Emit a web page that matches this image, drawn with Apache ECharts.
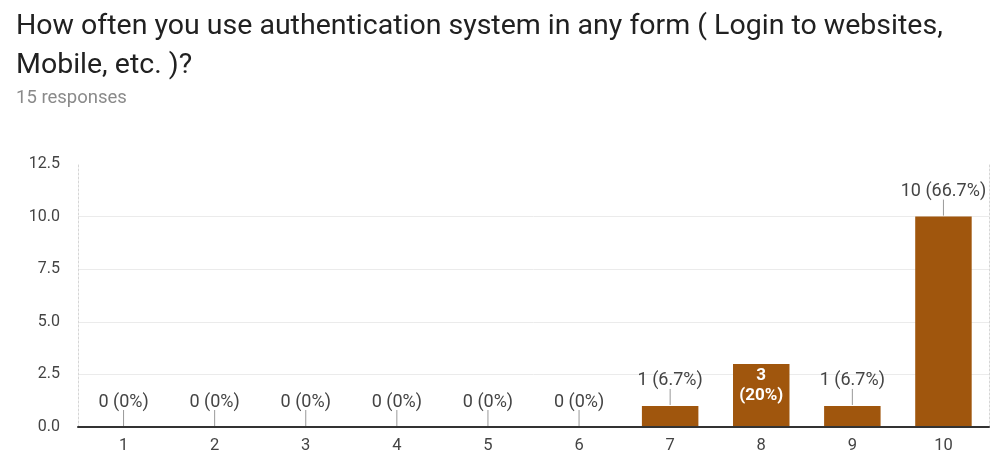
<!DOCTYPE html>
<html>
<head>
<meta charset="utf-8">
<script src="https://cdn.jsdelivr.net/npm/echarts@6/dist/echarts.min.js"></script>
<style>
  html, body { margin: 0; padding: 0; background: #fff; }
  #chart { width: 991px; height: 456px; }
</style>
</head>
<body>
<div id="chart"></div>
<script>
// Survey answers: rating 1..10 and how many people picked each
const categories = ['1', '2', '3', '4', '5', '6', '7', '8', '9', '10'];
const counts = [0, 0, 0, 0, 0, 0, 1, 3, 1, 10];
const totalResponses = 15;
const yTicks = [0, 2.5, 5, 7.5, 10, 12.5];

const titleText = 'How often you use authentication system in any form ( Login to websites,\nMobile, etc. )?';
const subText = totalResponses + ' responses';

const BAR_COLOR = '#a0560d';
const LABEL_COLOR = '#444';
const FONT = 'Roboto, Arial, sans-serif';
const FRAME = { show: true, lineStyle: { color: '#d6d6d6', type: [2, 2], width: 1 } };

function pct(v) {
  return Math.round(v / totalResponses * 1000) / 10;
}
// labels that sit inside their bar (split over two lines)
const insideLabel = counts.map(v => v >= 2 && v <= 5);

const barData = counts.map((v, i) => {
  if (insideLabel[i]) {
    return {
      value: v,
      label: {
        show: true, position: 'insideTop', distance: 2,
        color: '#fff', fontWeight: 'bold', fontSize: 17, lineHeight: 20,
        fontFamily: FONT,
        formatter: v + '\n(' + pct(v) + '%)'
      }
    };
  }
  return {
    value: v,
    label: {
      show: true, position: 'top', distance: 16,
      color: LABEL_COLOR, fontSize: 18, fontFamily: FONT,
      formatter: v + ' (' + pct(v) + '%)'
    }
  };
});

const chart = echarts.init(document.getElementById('chart'), null, { renderer: 'canvas' });
chart.setOption({
  animation: false,
  backgroundColor: '#fff',
  title: {
    text: titleText,
    subtext: subText,
    left: 11,
    top: 2,
    itemGap: 4,
    textStyle: { fontFamily: FONT, fontSize: 28.5, fontWeight: 'normal', color: '#212121', lineHeight: 39 },
    subtextStyle: { fontFamily: FONT, fontSize: 18.5, color: '#8a8a8a' }
  },
  grid: { left: 78, right: 2, top: 164, bottom: 29 },
  xAxis: [
    {
      type: 'category',
      data: categories,
      axisLine: { lineStyle: { color: '#333', width: 2 } },
      axisTick: { show: false },
      axisLabel: { color: LABEL_COLOR, fontSize: 16.5, fontFamily: FONT, margin: 10 },
      z: 5
    },
    {
      // dotted frame along the top edge
      type: 'category',
      data: categories,
      position: 'top',
      axisLine: FRAME,
      axisTick: { show: false },
      axisLabel: { show: false }
    }
  ],
  yAxis: [
    {
      type: 'value',
      min: yTicks[0],
      max: yTicks[yTicks.length - 1],
      interval: 2.5,
      axisLine: FRAME,
      axisTick: { show: false },
      axisLabel: {
        color: LABEL_COLOR, fontSize: 16, fontFamily: FONT, margin: 18,
        formatter: v => v.toFixed(1)
      },
      splitLine: { lineStyle: { color: ['#ebebeb', '#ebebeb', '#ebebeb', '#ebebeb', '#ebebeb', 'transparent'] } }
    },
    {
      // dotted frame along the right edge
      type: 'value',
      position: 'right',
      min: yTicks[0],
      max: yTicks[yTicks.length - 1],
      interval: 2.5,
      axisLine: FRAME,
      axisTick: { show: false },
      axisLabel: { show: false },
      splitLine: { show: false }
    }
  ],
  series: [
    {
      type: 'bar',
      data: barData,
      barWidth: '62%',
      itemStyle: { color: BAR_COLOR },
      z: 2
    },
    {
      // short leader lines from the top of each bar up to its outside label
      type: 'custom',
      data: counts.map((v, i) => [i, v]),
      renderItem: (params, api) => {
        const i = api.value(0);
        if (insideLabel[i]) return null;
        const p = api.coord([i, api.value(1)]);
        return {
          type: 'line',
          shape: { x1: p[0], y1: p[1] - 1, x2: p[0], y2: p[1] - 17 },
          style: { stroke: '#999', lineWidth: 1 }
        };
      },
      silent: true,
      z: 3
    }
  ]
});
</script>
</body>
</html>
